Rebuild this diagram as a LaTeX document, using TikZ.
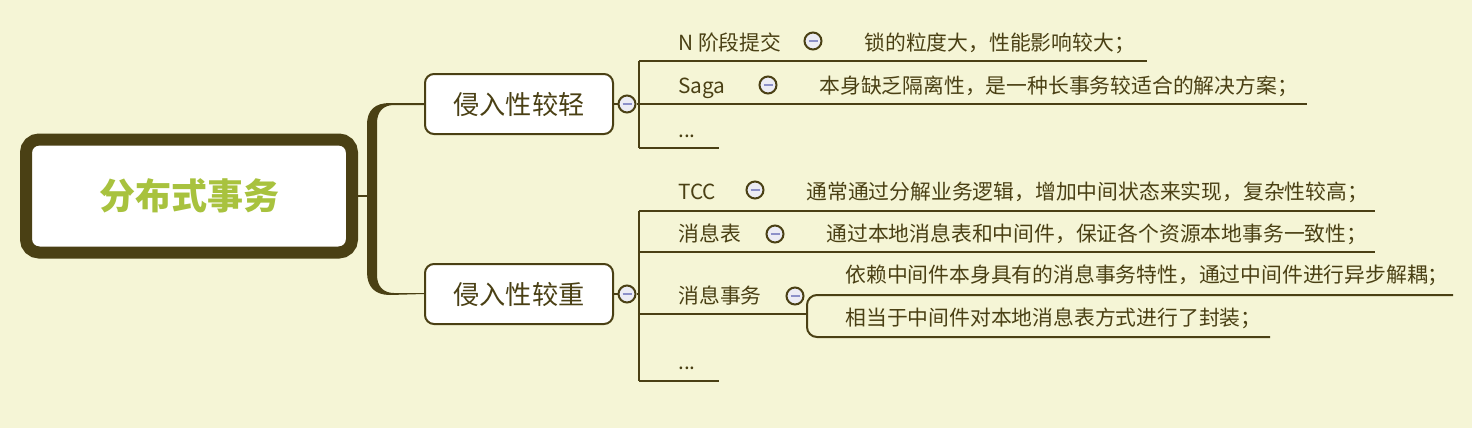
\documentclass[tikz,border=0pt]{standalone}
\usepackage{fontspec}
\setmainfont{Noto Sans CJK SC}
\definecolor{xbg}{RGB}{245,245,214}
\definecolor{xline}{RGB}{74,64,20}
\definecolor{xgreen}{RGB}{168,194,62}
\definecolor{xcirc}{RGB}{236,236,244}
\definecolor{xminus}{RGB}{140,144,200}
\newcommand{\minusmark}{\textcolor{xminus}{\rule{4.5pt}{0.9pt}}}

\begin{document}
\begin{tikzpicture}[x=0.5pt,y=-0.5pt,
  rootbox/.style={rectangle,rounded corners=6.5pt,draw=xline,line width=6pt,fill=white,
    minimum width=163pt,minimum height=56.5pt,text=xgreen,font=\fontsize{18}{20}\selectfont\bfseries},
  branch/.style={rectangle,rounded corners=4.5pt,draw=xline,line width=1pt,fill=white,
    minimum width=94pt,minimum height=30pt,text=xline,font=\fontsize{13.1}{15}\selectfont},
  leaf/.style={anchor=base west,inner sep=0pt,text=xline,font=\fontsize{10.4}{12}\selectfont},
  tog/.style={circle,draw=xline,fill=xcirc,line width=1pt,minimum size=8.5pt,inner sep=0pt},
  link/.style={draw=xline,line width=1pt}]
\fill[xbg] (0,0) rectangle (1472,428);
\useasboundingbox (0,0) rectangle (1472,428);
% root and the two branches
\node[rootbox] (root) at (189,196) {分布式事务};
\node[branch] (light) at (519,104) {侵入性较轻};
\node[branch] (heavy) at (519,294) {侵入性较重};
\node[tog] (tl) at (627,104) {\minusmark};
\node[tog] (th) at (627,294) {\minusmark};
\coordinate (fork) at (372,196);
\draw[link] (root.east) -- (fork);
\fill[xline] (light.west) ++(0,-1) -- (390,103) .. controls (375,103) and (367,110) .. (367,125)
  -- (367,272) .. controls (367,287) and (375,295) .. (390,295) -- (heavy.west) -- ++(0,-1)
  -- (394,293) .. controls (383,293) and (377,286) .. (377,275) -- (377,123)
  .. controls (377,112) and (383,105) .. (394,105) -- (425,105) -- cycle;
\draw[link] (light.east) -- (tl.west);
\draw[link] (heavy.east) -- (th.west);
% light branch
\coordinate (sl) at (639,104);
\coordinate (sl1) at (639,61);
\coordinate (sl2) at (639,104);
\coordinate (sl3) at (639,148);
\draw[link] (tl.east) -- (sl);
\draw[link] (sl1) -- (sl3);
\node[leaf] (npc) at (678,50) {N 阶段提交};
\node[tog] (npct) at (813,41) {\minusmark};
\node[leaf] (npcd) at (864,50) {锁的粒度大，性能影响较大；};
\coordinate (npce) at (1147,61);
\node[leaf] (saga) at (678,93) {Saga};
\node[tog] (sagat) at (768,85) {\minusmark};
\node[leaf] (sagad) at (819,93) {本身缺乏隔离性，是一种长事务较适合的解决方案；};
\coordinate (sagae) at (1307,104);
\node[leaf] (lmore) at (678,137) {...};
\coordinate (lmoree) at (719,148);
\draw[link] (sl1) -- (npce);
\draw[link] (sl2) -- (sagae);
\draw[link] (sl3) -- (lmoree);
% heavy branch
\coordinate (sh) at (639,294);
\coordinate (sh1) at (639,211);
\coordinate (sh2) at (639,252);
\coordinate (sh3) at (639,314);
\coordinate (sh4) at (639,381);
\draw[link] (th.east) -- (sh);
\draw[link] (sh1) -- (sh4);
\node[leaf] (tcc) at (678,199) {TCC};
\node[tog] (tcct) at (755,190) {\minusmark};
\node[leaf] (tccd) at (806,199) {通常通过分解业务逻辑，增加中间状态来实现，复杂性较高；};
\coordinate (tcce) at (1375,211);
\node[leaf] (mtab) at (678,241) {消息表};
\node[tog] (mtabt) at (775,234) {\minusmark};
\node[leaf] (mtabd) at (826,241) {通过本地消息表和中间件，保证各个资源本地事务一致性；};
\coordinate (mtabe) at (1375,252);
\node[leaf] (mtx) at (678,303) {消息事务};
\node[tog] (mtxt) at (795,296) {\minusmark};
\coordinate (mtxb) at (807,314);
\node[leaf] (mtxd1) at (845,282) {依赖中间件本身具有的消息事务特性，通过中间件进行异步解耦；};
\node[leaf] (mtxd2) at (845,325) {相当于中间件对本地消息表方式进行了封装；};
\coordinate (mtxe1) at (1453,295);
\coordinate (mtxe2) at (1270,337);
\node[leaf] (hmore) at (678,369) {...};
\coordinate (hmoree) at (719,381);
\draw[link] (sh1) -- (tcce);
\draw[link] (sh2) -- (mtabe);
\draw[link] (sh3) -- (mtxb);
\draw[link,rounded corners=5pt] (mtxe1) -- (mtxb |- mtxe1) -- (mtxb |- mtxe2) -- (mtxe2);
\draw[link] (sh4) -- (hmoree);
\end{tikzpicture}
\end{document}
